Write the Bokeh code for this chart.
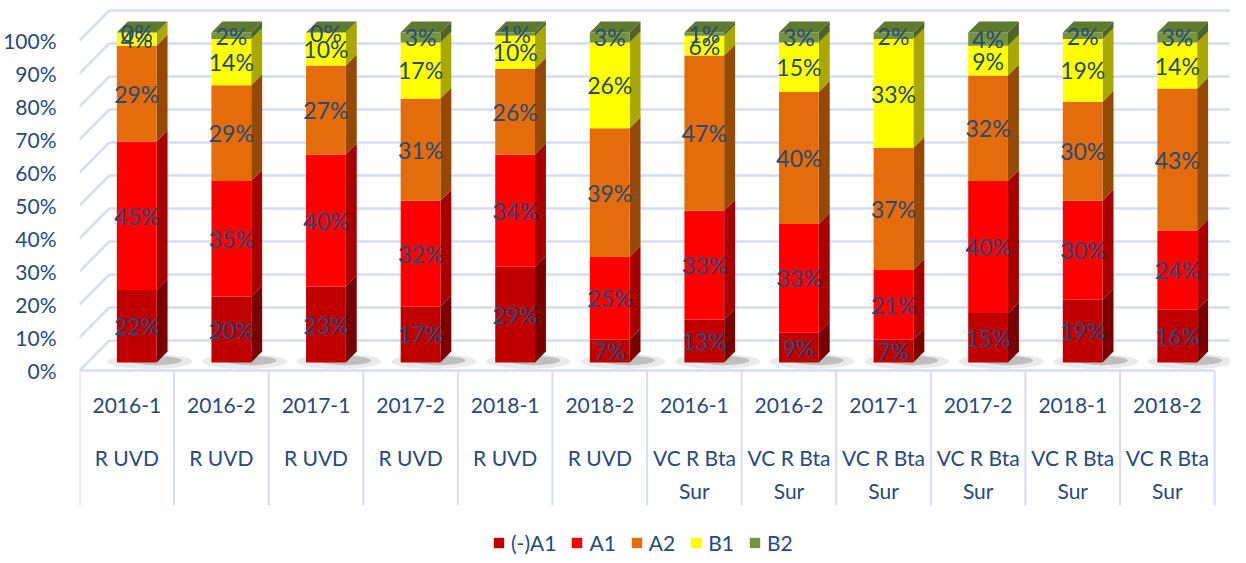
import textwrap
from bokeh.plotting import figure
from bokeh.models import (ColumnDataSource, Range1d, FixedTicker, PrintfTickFormatter,
                          Legend, LegendItem)
from bokeh.core.properties import value
from bokeh.embed import file_html
from bokeh.resources import INLINE

# ---------------- data ----------------
periods = ["2016-1", "2016-2", "2017-1", "2017-2", "2018-1", "2018-2",
           "2016-1", "2016-2", "2017-1", "2017-2", "2018-1", "2018-2"]
groups = ["R UVD"] * 6 + ["VC R Bta Sur"] * 6
series_names = ["(-)A1", "A1", "A2", "B1", "B2"]
neg_a1 = [22, 20, 23, 17, 29, 7, 13, 9, 7, 15, 19, 16]
a1 = [45, 35, 40, 32, 34, 25, 33, 33, 21, 40, 30, 24]
a2 = [29, 29, 27, 31, 26, 39, 47, 40, 37, 32, 30, 43]
b1 = [4, 14, 10, 17, 10, 26, 6, 15, 33, 9, 19, 14]
b2 = [0, 2, 0, 3, 1, 3, 1, 3, 2, 4, 2, 3]
y_ticks = [0, 10, 20, 30, 40, 50, 60, 70, 80, 90, 100]

# ---------------- styling ----------------
front_colors = ["#C00000", "#FF0000", "#E46C0A", "#FFFF00", "#77933C"]
side_colors = ["#7A0000", "#A80000", "#964805", "#A8A800", "#4F6228"]
cap_color = "#5E7A2E"
text_color = "#264A7C"
grid_color = "#D3DEF0"
FONT = "Lato"

W, H = 1230, 555
LEFT = 72
CELL_PX = 95.17
PX_Y = 3.3           # px per percent unit
ZERO_PY = 370        # figure-y of 0% front plane

ux = 1.0 / CELL_PX   # x units per px
uy = 1.0 / PX_Y      # y units per px

x_start = -0.5
x_end = x_start + (W - LEFT) / CELL_PX
y_end = ZERO_PY / PX_Y
y_start = -(H - ZERO_PY) / PX_Y

p = figure(width=W, height=H, output_backend="svg", toolbar_location=None,
           x_range=Range1d(x_start, x_end), y_range=Range1d(y_start, y_end),
           x_axis_location=None, min_border_left=LEFT, min_border_right=0,
           min_border_top=0, min_border_bottom=0, outline_line_color=None,
           background_fill_color="white", border_fill_color="white")
p.grid.visible = False

yax = p.yaxis[0]
yax.ticker = FixedTicker(ticks=y_ticks)
yax.formatter = PrintfTickFormatter(format="%d%%")
yax.axis_line_color = None
yax.major_tick_line_color = None
yax.minor_tick_line_color = None
yax.major_label_standoff = 17
yax.major_label_text_font = FONT
yax.major_label_text_font_size = "21px"
yax.major_label_text_color = text_color

n = len(periods)
xs_idx = list(range(n))

# wall geometry
dxw = 30 * ux
dyw = 30 * uy
front_right = x_start + n

# back wall gridlines + left wall diagonals
p.segment(x0=[x_start + dxw] * len(y_ticks), y0=[t + dyw for t in y_ticks],
          x1=[x_end] * len(y_ticks), y1=[t + dyw for t in y_ticks],
          line_color=grid_color, line_width=2.5)
p.segment(x0=[x_start] * len(y_ticks), y0=y_ticks,
          x1=[x_start + dxw] * len(y_ticks), y1=[t + dyw for t in y_ticks],
          line_color=grid_color, line_width=2.5)
# floor front edge
p.segment(x0=[x_start], y0=[0], x1=[front_right], y1=[0],
          line_color=grid_color, line_width=2.5)

# bar geometry
off_x = 10 * ux
off_y = 8 * uy
hw = 20 * ux
sdx = 11 * ux
sdy = 11 * uy
centers = [i + off_x for i in xs_idx]

# floor shadows
p.ellipse(x=[c + 0.14 for c in centers], y=[off_y + 0.3] * n, width=0.9, height=4.5,
          fill_color="#A0A0A0", fill_alpha=0.22, line_color=None)
p.ellipse(x=[c + 0.2 for c in centers], y=[off_y + 0.6] * n, width=0.55, height=2.8,
          fill_color="#707070", fill_alpha=0.35, line_color=None)

series = [neg_a1, a1, a2, b1, b2]
cum = [0.0] * n
legend_items = []
label_x, label_y, label_t = [], [], []
for s_i, vals in enumerate(series):
    bottoms = [off_y + c for c in cum]
    tops = [off_y + c + v for c, v in zip(cum, vals)]
    # side faces
    sxs, sys = [], []
    for i in xs_idx:
        xr = centers[i] + hw
        sxs.append([xr, xr + sdx, xr + sdx, xr])
        sys.append([bottoms[i], bottoms[i] + sdy, tops[i] + sdy, tops[i]])
    p.patches(xs=sxs, ys=sys, fill_color=side_colors[s_i], line_color=None)
    src = ColumnDataSource(dict(x=centers, bottom=bottoms, top=tops))
    r = p.vbar(x="x", bottom="bottom", top="top", width=2 * hw, source=src,
               fill_color=front_colors[s_i], line_color=None)
    legend_items.append(LegendItem(label=series_names[s_i], renderers=[r]))
    for i in xs_idx:
        label_x.append(centers[i])
        label_y.append(off_y + cum[i] + vals[i] / 2.0)
        label_t.append(f"{vals[i]}%")
    cum = [c + v for c, v in zip(cum, vals)]

# top caps
cxs, cys = [], []
for i in xs_idx:
    top = off_y + cum[i]
    xl, xr = centers[i] - hw, centers[i] + hw
    cxs.append([xl, xl + sdx, xr + sdx, xr])
    cys.append([top, top + sdy, top + sdy, top])
p.patches(xs=cxs, ys=cys, fill_color=cap_color, line_color=None)

# data labels
p.text(x=label_x, y=label_y, text=label_t, text_align="center",
       text_baseline="middle", text_font=value(FONT), text_font_size="23px",
       text_color=text_color)

# category table below the floor
bounds = [x_start + k for k in range(n + 1)]
table_bottom = -(505 - 370) * uy
p.segment(x0=bounds, y0=[0] * len(bounds), x1=bounds, y1=[table_bottom] * len(bounds),
          line_color=grid_color, line_width=2)
row_y = [-(405 - 370) * uy, -(457 - 370) * uy, -(490 - 370) * uy]
tx, ty, tt = [], [], []
for i in xs_idx:
    tx.append(i); ty.append(row_y[0]); tt.append(periods[i])
    for k, line in enumerate(textwrap.wrap(groups[i], width=8)):
        tx.append(i); ty.append(row_y[1 + k]); tt.append(line)
p.text(x=tx, y=ty, text=tt, text_align="center", text_baseline="middle",
       text_font=value(FONT), text_font_size="21px", text_color=text_color)

legend = Legend(items=legend_items, orientation="horizontal", location=(413, 0),
                padding=0, margin=0, spacing=14, label_standoff=6,
                glyph_width=13, glyph_height=13, label_height=13,
                border_line_color=None, background_fill_alpha=0,
                label_text_font=FONT, label_text_font_size="21px",
                label_text_color=text_color)
p.add_layout(legend)

open("out.html", "w").write(file_html(p, INLINE))
